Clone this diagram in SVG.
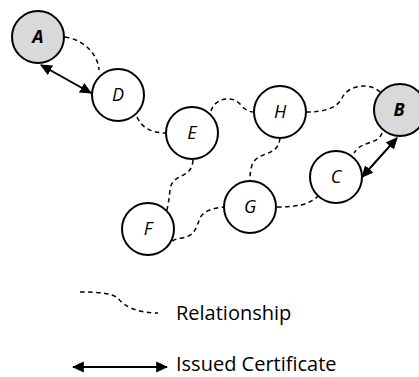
<svg xmlns="http://www.w3.org/2000/svg" width="419" height="377" viewBox="0 0 419 377">
<defs>
<marker id="ah" viewBox="0 0 10 10" refX="9" refY="5" markerWidth="6" markerHeight="6" orient="auto-start-reverse" markerUnits="strokeWidth">
<path d="M0,0.5 L10,5 L0,9.5 z" fill="#000"/>
</marker>
<style>
.n{fill:#fff;stroke:#000;stroke-width:2}
.g{fill:#d9d9d9}
.t{font-family:"Open Sans","Liberation Sans",sans-serif;font-size:18px;font-style:italic;text-anchor:middle;fill:#000}
.b{font-weight:bold}
.d{fill:none;stroke:#000;stroke-width:1.5;stroke-dasharray:4.5,3.5}
.a{fill:none;stroke:#000;stroke-width:2;marker-start:url(#ah);marker-end:url(#ah)}
.l{font-family:"Open Sans","Liberation Sans",sans-serif;font-size:20px;fill:#000}
</style>
</defs>
<g id="connectors">
<path class="d" d="M65,37 C85,40 98,55 99,70"/>
<path class="d" d="M137,117 C142,128 152,133 166,133"/>
<path class="d" d="M211,111 C215,98 232,95 240,104 C245,110 249,112 254,112"/>
<path class="d" d="M306,112 C325,112 337,108 342,98 C348,85 370,82 380,92"/>
<path class="d" d="M382,133 C378,145 362,140 354,153"/>
<path class="d" d="M280,138 C278,158 258,150 252,165 C250,172 250,176 250,181"/>
<path class="d" d="M193,160 C192,180 172,172 170,190 C169,200 168,205 167,210"/>
<path class="d" d="M167,247 C172,240 175,239 182,238 C195,236 196,228 200,218 C204,210 215,208 224,207"/>
<path class="d" d="M277,207 C295,207 310,205 318,196"/>
<path class="a" d="M41,65 L91,93"/>
<path class="a" d="M397,138 L362,177"/>
</g>
<g id="node-A"><circle class="n g" cx="38" cy="37" r="26"/><text class="t b" x="38" y="43">A</text></g>
<g id="node-D"><circle class="n" cx="118" cy="95" r="26"/><text class="t" x="118" y="101">D</text></g>
<g id="node-E"><circle class="n" cx="192" cy="133" r="26"/><text class="t" x="192" y="139">E</text></g>
<g id="node-H"><circle class="n" cx="280" cy="112" r="26"/><text class="t" x="280" y="118">H</text></g>
<g id="node-B"><circle class="n g" cx="400" cy="110" r="26"/><text class="t b" x="399" y="116">B</text></g>
<g id="node-C"><circle class="n" cx="336" cy="177" r="26"/><text class="t" x="336" y="183">C</text></g>
<g id="node-G"><circle class="n" cx="250" cy="207" r="26"/><text class="t" x="250" y="213">G</text></g>
<g id="node-F"><circle class="n" cx="148" cy="229" r="26"/><text class="t" x="148" y="235">F</text></g>
<g id="legend">
<path class="d" d="M80,292 C100,292 110,293 118,298 C125,308 140,313 158,313"/>
<text class="l" x="176" y="320">Relationship</text>
<path class="a" d="M73,367 L167,367"/>
<text class="l" x="176" y="371">Issued Certificate</text>
</g>
</svg>
